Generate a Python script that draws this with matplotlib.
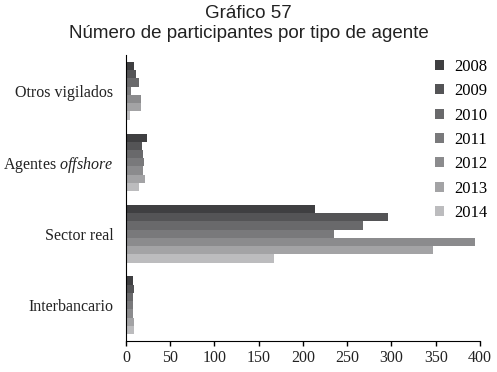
import numpy as np
import matplotlib.pyplot as plt

plt.rcParams['mathtext.fontset'] = 'custom'
plt.rcParams['mathtext.rm'] = 'Liberation Serif'
plt.rcParams['mathtext.it'] = 'Liberation Serif:italic'

categories = ['Otros vigilados', 'Agentes $\\it{offshore}$', 'Sector real', 'Interbancario']
years = ['2008', '2009', '2010', '2011', '2012', '2013', '2014']

otros = [9, 11, 15, 6, 17, 17, 5]
offshore = [24, 18, 19, 20, 19, 21, 15]
sector_real = [214, 296, 268, 235, 394, 347, 167]
interbancario = [8, 9, 8, 8, 8, 9, 9]

colors = ['#3f3f41', '#545456', '#69696b', '#79797b', '#8b8b8d', '#a3a3a5', '#bcbcbe']

values = np.array([otros, offshore, sector_real, interbancario])

fig = plt.figure(figsize=(4.97, 3.72), dpi=100)
ax = fig.add_axes([0.2535, 0.0833, 0.7123, 0.7687])

ypos = np.array([3, 2, 1, 0])
h = 0.115
for i, year in enumerate(years):
    ax.barh(ypos + (3 - i) * h, values[:, i], height=h, color=colors[i],
            label=year, linewidth=0)

ax.set_xlim(0, 400)
ax.set_ylim(-0.5, 3.5)
ax.set_xticks(np.arange(0, 401, 50))
ax.set_yticks(ypos)
ax.set_yticklabels(categories)
for lab in ax.get_xticklabels() + ax.get_yticklabels():
    lab.set_fontfamily('Liberation Serif')
    lab.set_fontsize(11.5)
    lab.set_color('#222222')
ax.tick_params(axis='y', length=0, pad=9)
ax.tick_params(axis='x', length=3.5, width=1, direction='out', pad=3)
ax.spines['top'].set_visible(False)
ax.spines['right'].set_visible(False)

leg = ax.legend(loc='upper right', frameon=False, handlelength=0.55, handleheight=0.55,
                labelspacing=0.5, handletextpad=0.6, borderaxespad=0.0,
                bbox_to_anchor=(1.04, 1.01), prop={'family': 'Liberation Serif', 'size': 12})

fig.text(0.5, 0.965, 'Gráfico 57', ha='center', va='center',
         fontfamily='Liberation Sans', fontsize=13.5, color='#222222')
fig.text(0.5, 0.91, 'Número de participantes por tipo de agente', ha='center', va='center',
         fontfamily='Liberation Sans', fontsize=13.5, color='#222222')

fig.savefig('out.png', dpi=100)
